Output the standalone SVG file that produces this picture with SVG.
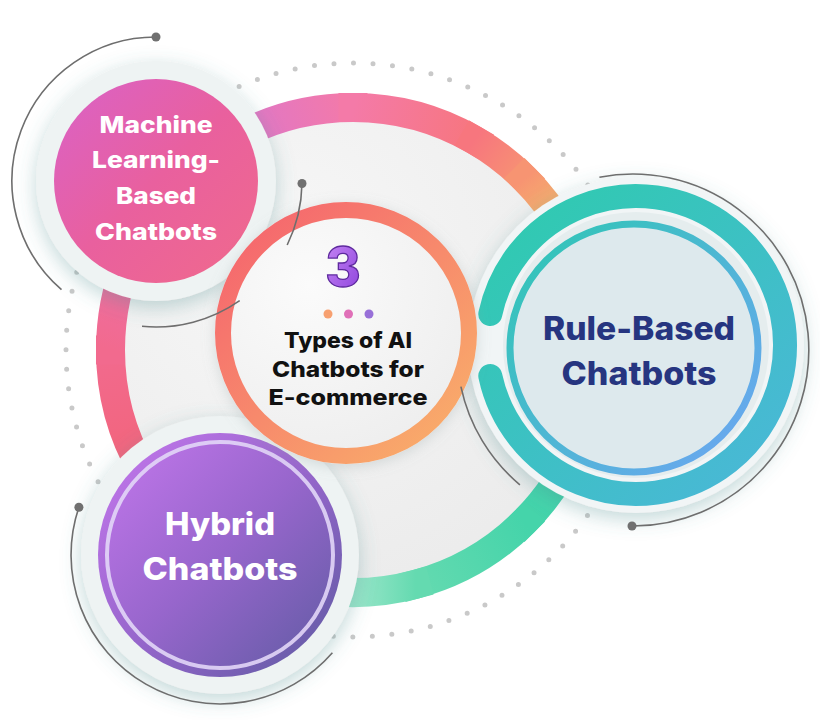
<svg xmlns="http://www.w3.org/2000/svg" width="820" height="720" viewBox="0 0 820 720">
<defs>
<style>
.seg{fill:none;stroke-width:29;stroke-linecap:square}
.dots{fill:none;stroke:#c9c9c9;stroke-width:5;stroke-linecap:round;stroke-dasharray:0 19.6}
.conn{fill:none;stroke:#6e6e6e;stroke-width:1.6}
.cdot{fill:#707070}
.t{font-family:Inter,'Open Sans','Liberation Sans',sans-serif;font-weight:800;text-anchor:middle}
.halo{fill:#eef3f3}
</style>
<filter id="sh" x="-30%" y="-30%" width="160%" height="160%">
<feGaussianBlur in="SourceAlpha" stdDeviation="10" result="b"/>
<feOffset in="b" dx="0" dy="6" result="o"/>
<feFlood flood-color="#4f8f90" flood-opacity="0.35"/>
<feComposite in2="o" operator="in" result="s"/>
<feMerge><feMergeNode in="s"/><feMergeNode in="SourceGraphic"/></feMerge>
</filter>
<filter id="sh2" x="-30%" y="-30%" width="160%" height="160%">
<feGaussianBlur in="SourceAlpha" stdDeviation="7" result="b"/>
<feOffset in="b" dx="0" dy="3" result="o"/>
<feFlood flood-color="#8a9a9a" flood-opacity="0.3"/>
<feComposite in2="o" operator="in" result="s"/>
<feMerge><feMergeNode in="s"/><feMergeNode in="SourceGraphic"/></feMerge>
</filter>
<radialGradient id="disc" cx="0.35" cy="0.3" r="0.8">
<stop offset="0" stop-color="#f7f7f7"/><stop offset="1" stop-color="#ebebeb"/>
</radialGradient>
<radialGradient id="cfill" cx="0.35" cy="0.3" r="0.8">
<stop offset="0" stop-color="#fbfbfb"/><stop offset="1" stop-color="#ededed"/>
</radialGradient>
<linearGradient id="g1" gradientUnits="userSpaceOnUse" x1="143" y1="471.3" x2="110.5" y2="350"><stop offset="0" stop-color="#f2647a"/><stop offset="1" stop-color="#f26a8e"/></linearGradient>
<linearGradient id="g2" gradientUnits="userSpaceOnUse" x1="110.5" y1="350" x2="143" y2="228.75"><stop offset="0" stop-color="#f26a8e"/><stop offset="1" stop-color="#ec70b0"/></linearGradient>
<linearGradient id="g3" gradientUnits="userSpaceOnUse" x1="143" y1="228.75" x2="231.75" y2="140"><stop offset="0" stop-color="#ec70b0"/><stop offset="1" stop-color="#dc76cc"/></linearGradient>
<linearGradient id="g4" gradientUnits="userSpaceOnUse" x1="231.75" y1="140" x2="353" y2="107.5"><stop offset="0" stop-color="#dc76cc"/><stop offset="1" stop-color="#f47aa8"/></linearGradient>
<linearGradient id="g5" gradientUnits="userSpaceOnUse" x1="353" y1="107.5" x2="474.25" y2="140"><stop offset="0" stop-color="#f47aa8"/><stop offset="1" stop-color="#f7767e"/></linearGradient>
<linearGradient id="g6" gradientUnits="userSpaceOnUse" x1="474.25" y1="140" x2="524.5" y2="178.5"><stop offset="0" stop-color="#f7767e"/><stop offset="1" stop-color="#f79472"/></linearGradient>
<linearGradient id="g7" gradientUnits="userSpaceOnUse" x1="524.5" y1="178.5" x2="563" y2="228.75"><stop offset="0" stop-color="#f79472"/><stop offset="1" stop-color="#f3c06a"/></linearGradient>
<linearGradient id="g8" gradientUnits="userSpaceOnUse" x1="563" y1="228.75" x2="595.5" y2="350"><stop offset="0" stop-color="#f3c06a"/><stop offset="1" stop-color="#3ccdb0"/></linearGradient>
<linearGradient id="g9" gradientUnits="userSpaceOnUse" x1="595.5" y1="350" x2="524.5" y2="521.5"><stop offset="0" stop-color="#3ccdb0"/><stop offset="1" stop-color="#45d4aa"/></linearGradient>
<linearGradient id="g10" gradientUnits="userSpaceOnUse" x1="524.5" y1="521.5" x2="415.8" y2="584.2"><stop offset="0" stop-color="#45d4aa"/><stop offset="1" stop-color="#64dab0"/></linearGradient>
<linearGradient id="g11" gradientUnits="userSpaceOnUse" x1="415.8" y1="584.2" x2="290.2" y2="584.2"><stop offset="0" stop-color="#64dab0"/><stop offset="1" stop-color="#d2f2e4"/></linearGradient>
<linearGradient id="mlg" x1="0" y1="0" x2="1" y2="1"><stop offset="0" stop-color="#d962c8"/><stop offset="0.5" stop-color="#e9609e"/><stop offset="1" stop-color="#f06a8c"/></linearGradient>
<linearGradient id="hyg" x1="0" y1="0" x2="1" y2="1"><stop offset="0" stop-color="#c678ee"/><stop offset="0.5" stop-color="#9766cc"/><stop offset="1" stop-color="#5c5aa0"/></linearGradient>
<linearGradient id="crg" gradientUnits="userSpaceOnUse" x1="240" y1="215" x2="460" y2="450"><stop offset="0" stop-color="#f5646e"/><stop offset="1" stop-color="#f9b06a"/></linearGradient>
<linearGradient id="rbo" gradientUnits="userSpaceOnUse" x1="500" y1="190" x2="790" y2="500"><stop offset="0" stop-color="#2ecbae"/><stop offset="1" stop-color="#4cb6da"/></linearGradient>
<linearGradient id="rbi" gradientUnits="userSpaceOnUse" x1="520" y1="240" x2="750" y2="460"><stop offset="0" stop-color="#30c6b6"/><stop offset="1" stop-color="#6ca6f2"/></linearGradient>
<linearGradient id="three" x1="0" y1="0" x2="1" y2="1"><stop offset="0" stop-color="#c98af5"/><stop offset="1" stop-color="#8b40dc"/></linearGradient>
</defs>
<rect width="820" height="720" fill="#ffffff"/>

<g id="background-ring">
<circle cx="353" cy="350" r="287" class="dots"/>
<circle cx="353" cy="350" r="230" fill="url(#disc)"/>
<path class="seg" stroke="url(#g1)" d="M143,471.3 A242.5,242.5 0 0 1 110.5,350"/>
<path class="seg" stroke="url(#g2)" d="M110.5,350 A242.5,242.5 0 0 1 143,228.75"/>
<path class="seg" stroke="url(#g3)" d="M143,228.75 A242.5,242.5 0 0 1 231.75,140"/>
<path class="seg" stroke="url(#g4)" d="M231.75,140 A242.5,242.5 0 0 1 353,107.5"/>
<path class="seg" stroke="url(#g5)" d="M353,107.5 A242.5,242.5 0 0 1 474.25,140"/>
<path class="seg" stroke="url(#g6)" d="M474.25,140 A242.5,242.5 0 0 1 524.5,178.5"/>
<path class="seg" stroke="url(#g7)" d="M524.5,178.5 A242.5,242.5 0 0 1 563,228.75"/>
<path class="seg" stroke="url(#g8)" d="M563,228.75 A242.5,242.5 0 0 1 595.5,350"/>
<path class="seg" stroke="url(#g9)" d="M595.5,350 A242.5,242.5 0 0 1 524.5,521.5"/>
<path class="seg" stroke="url(#g10)" d="M524.5,521.5 A242.5,242.5 0 0 1 415.8,584.2"/>
<path class="seg" stroke="url(#g11)" d="M415.8,584.2 A242.5,242.5 0 0 1 290.2,584.2"/>
</g>

<g id="node-ml">
<circle cx="156" cy="181" r="120" class="halo" filter="url(#sh)"/>
<circle cx="156" cy="181" r="102" fill="url(#mlg)"/>
<text class="t" fill="#ffffff" font-size="23"><tspan x="156" y="133" textLength="113" lengthAdjust="spacingAndGlyphs">Machine</tspan><tspan x="156" y="168" textLength="128" lengthAdjust="spacingAndGlyphs">Learning-</tspan><tspan x="156" y="204" textLength="80" lengthAdjust="spacingAndGlyphs">Based</tspan><tspan x="156" y="240" textLength="122" lengthAdjust="spacingAndGlyphs">Chatbots</tspan></text>
</g>

<g id="node-hybrid">
<circle cx="220" cy="555" r="139" class="halo" filter="url(#sh)"/>
<circle cx="220" cy="555" r="122" fill="url(#hyg)"/>
<circle cx="220" cy="555" r="113" fill="none" stroke="#e2d6f7" stroke-width="4" opacity="0.9"/>
<text class="t" fill="#ffffff" font-size="31"><tspan x="220" y="535" textLength="110" lengthAdjust="spacingAndGlyphs">Hybrid</tspan><tspan x="220" y="580" textLength="155" lengthAdjust="spacingAndGlyphs">Chatbots</tspan></text>
</g>

<g id="node-rule">
<circle cx="636" cy="345" r="168" fill="#f1f5f6" filter="url(#sh)"/>
<path d="M490.3,314 A149,149 0 1 1 490.3,376" fill="none" stroke="url(#rbo)" stroke-width="24" stroke-linecap="round"/>
<circle cx="636" cy="345" r="133" fill="#e5edee"/>
<circle cx="634" cy="348" r="124" fill="#dde9ed" stroke="url(#rbi)" stroke-width="7"/>
<text class="t" fill="#263580" font-size="32"><tspan x="639" y="340" textLength="192" lengthAdjust="spacingAndGlyphs">Rule-Based</tspan><tspan x="639" y="385" textLength="155" lengthAdjust="spacingAndGlyphs">Chatbots</tspan></text>
</g>

<g id="node-center">
<circle cx="346" cy="333" r="131" fill="#f3f3f3" filter="url(#sh2)"/>
<circle cx="346" cy="333" r="123" fill="url(#cfill)" stroke="url(#crg)" stroke-width="16"/>
<text class="t" font-size="54" fill="url(#three)" stroke="#5e2a9e" stroke-width="1.3" x="343" y="286">3</text>
<circle cx="328" cy="314" r="4.5" fill="#f7a070"/>
<circle cx="348.5" cy="314" r="4.5" fill="#e070b8"/>
<circle cx="369" cy="314" r="4.5" fill="#9870d8"/>
<text class="t" fill="#111111" font-size="22"><tspan x="348" y="348" textLength="128" lengthAdjust="spacingAndGlyphs">Types of AI</tspan><tspan x="348" y="377" textLength="152" lengthAdjust="spacingAndGlyphs">Chatbots for</tspan><tspan x="348" y="405" textLength="159" lengthAdjust="spacingAndGlyphs">E-commerce</tspan></text>
</g>

<g id="connectors">
<path class="conn" d="M156,37 A144,144 0 0 0 61.5,289.7"/>
<circle class="cdot" cx="156" cy="37" r="4.5"/>
<path class="conn" d="M302,183.5 A146,146 0 0 1 287.2,245"/>
<circle class="cdot" cx="302" cy="183.5" r="4.5"/>
<path class="conn" d="M239.7,300.6 A146,146 0 0 1 142,326.3"/>
<path class="conn" d="M599.4,177.2 A176,176 0 1 1 633,526"/>
<circle class="cdot" cx="632" cy="526" r="4.5"/>
<path class="conn" d="M519.9,484.8 A176,176 0 0 1 460.9,386.6"/>
<path class="conn" d="M78.9,507.2 A149,149 0 0 0 332.4,652.8"/>
<circle class="cdot" cx="78.9" cy="507.2" r="4.5"/>
</g>
</svg>
